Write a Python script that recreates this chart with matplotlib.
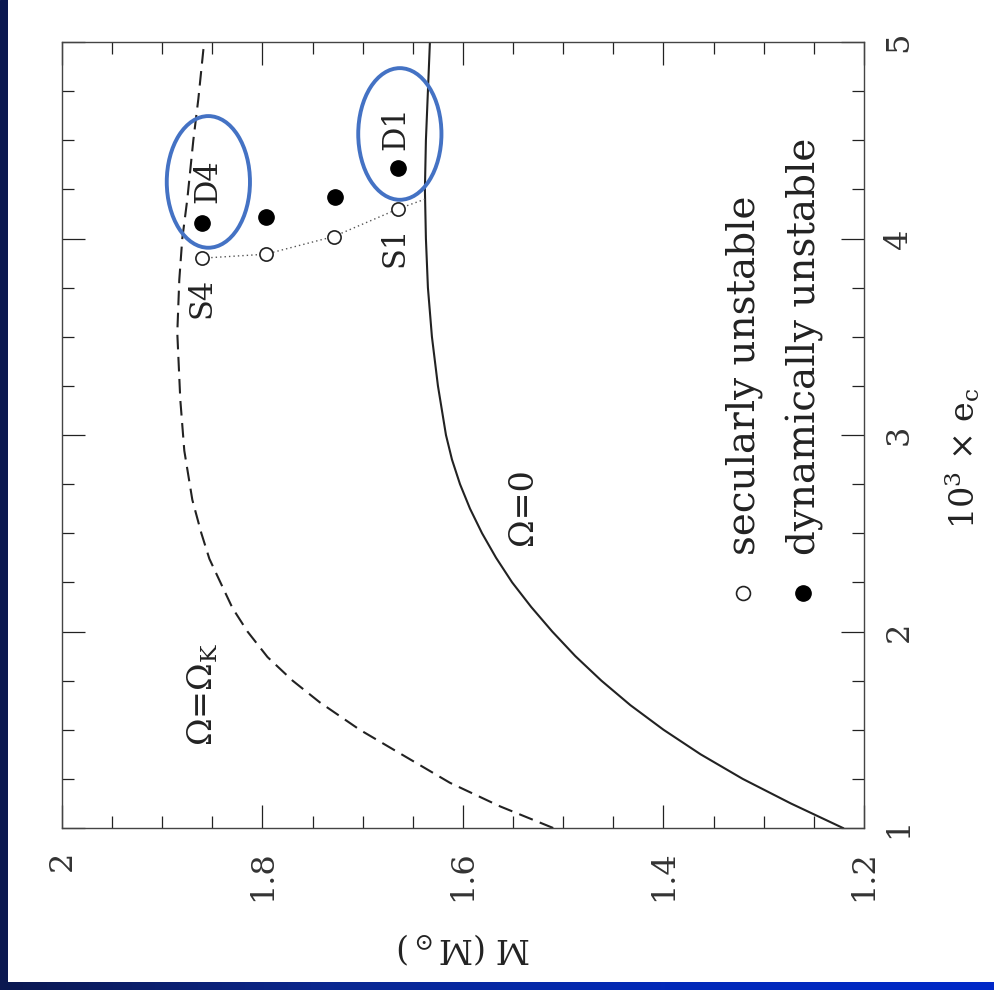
import matplotlib
matplotlib.use('Agg')
import matplotlib.pyplot as plt
import numpy as np
from matplotlib.patches import Ellipse
from matplotlib.ticker import MultipleLocator
from matplotlib.colors import LinearSegmentedColormap

plt.rcParams['font.family'] = 'DejaVu Serif'
plt.rcParams['mathtext.fontset'] = 'dejavuserif'

# Omega = 0 curve (10^3 e_c, M)
omega0_ec = [1.00, 1.125, 1.25, 1.375, 1.50, 1.625, 1.75, 1.875, 2.00, 2.125, 2.25, 2.375,
             2.50, 2.625, 2.75, 2.875, 3.00, 3.25, 3.50, 3.75, 4.00, 4.25, 4.50, 4.75, 5.00]
omega0_m = [1.221, 1.273, 1.321, 1.363, 1.400, 1.433, 1.462, 1.488, 1.511, 1.532, 1.551, 1.567,
            1.581, 1.593, 1.603, 1.611, 1.617, 1.625, 1.631, 1.635, 1.637, 1.638, 1.637, 1.635, 1.633]

# Omega = Omega_K curve
omegak_ec = [1.00, 1.11, 1.23, 1.38, 1.50, 1.64, 1.75, 1.87, 2.00, 2.12, 2.25, 2.37,
             2.50, 2.67, 2.92, 3.18, 3.52, 3.79, 4.00, 4.20, 4.50, 4.71, 4.96, 5.00]
omegak_m = [1.510, 1.563, 1.613, 1.663, 1.703, 1.743, 1.770, 1.795, 1.815, 1.830, 1.842, 1.853,
            1.861, 1.870, 1.878, 1.882, 1.885, 1.883, 1.880, 1.875, 1.869, 1.864, 1.859, 1.857]

# models
sec_m = [1.860, 1.797, 1.729, 1.665]
sec_ec = [3.90, 3.92, 4.01, 4.15]
dyn_m = [1.860, 1.797, 1.728, 1.665]
dyn_ec = [4.08, 4.11, 4.21, 4.36]
# dotted link from S1 to the Omega=0 line
link_m = sec_m + [1.638]
link_ec = sec_ec + [4.20]

W, H = 995, 990
fig = plt.figure(figsize=(W / 100, H / 100), dpi=100)
fig.patch.set_facecolor('white')

# slide frame: dark strip left, gradient strip at the bottom
left = fig.add_axes([0, 0, 8 / W, 1])
left.set_facecolor('#0b1850')
left.set_axis_off()
left.add_patch(plt.Rectangle((0, 0), 1, 1, color='#0b1850', transform=left.transAxes))
bot = fig.add_axes([0, 0, 1, 8 / H])
cmap = LinearSegmentedColormap.from_list('band', ['#0b1850', '#0a2790', '#0229b8', '#0028c8'])
bot.imshow(np.linspace(0, 1, 256).reshape(1, -1), aspect='auto', cmap=cmap, extent=[0, 1, 0, 1])
bot.set_axis_off()

ax = fig.add_axes([62 / W, 1 - 828 / H, (864 - 62) / W, (828 - 42) / H])
ink = '#222222'

ax.plot(omega0_m, omega0_ec, color=ink, lw=1.5)
ax.plot(omegak_m, omegak_ec, color=ink, lw=1.5, dashes=(7, 3.6))
ax.plot(link_m, link_ec, color='#555555', lw=1.0, dashes=(1, 2.2))
ax.plot(sec_m, sec_ec, 'o', ms=9.5, mfc='white', mec=ink, mew=1.2)
ax.plot(dyn_m, dyn_ec, 'o', ms=11, mfc='black', mec='black')

ax.set_xlim(2, 1.2)
ax.set_ylim(1, 5)
ax.xaxis.set_major_locator(MultipleLocator(0.2))
ax.xaxis.set_minor_locator(MultipleLocator(0.05))
ax.yaxis.set_major_locator(MultipleLocator(1))
ax.yaxis.set_minor_locator(MultipleLocator(0.25))
ax.xaxis.set_major_formatter(plt.FuncFormatter(lambda v, p: '%g' % round(v, 2)))
ax.tick_params(which='both', direction='in', top=True, bottom=True, left=True, right=True,
               labelleft=False, labelright=True, color=ink, width=0.9)
ax.tick_params(which='major', length=16.5)
ax.tick_params(which='minor', length=8.6)
ax.tick_params(axis='x', labelsize=23, pad=16, labelcolor='#333333', labelrotation=90)
ax.tick_params(axis='y', labelsize=23, pad=14, labelcolor='#333333', labelrotation=90)
for lab in ax.get_yticklabels():
    lab.set_va('center')
for s in ax.spines.values():
    s.set_color('#444444')
    s.set_linewidth(1.0)

# point labels
for txt, m, e in [('S4', 1.860, 3.70), ('D4', 1.855, 4.29), ('S1', 1.668, 3.96), ('D1', 1.667, 4.56)]:
    ax.text(m, e, txt, rotation=90, ha='center', va='center', fontsize=22, color=ink)

ax.text(1.540, 2.634, 'Ω=0', rotation=90, ha='center', va='center', fontsize=24, color=ink)
ax.text(1.860, 1.682, r'Ω=Ω$_{\rm K}$', rotation=90, ha='center', va='center', fontsize=24, color=ink)

# legend
ax.plot([1.321], [2.196], 'o', ms=10, mfc='white', mec=ink, mew=1.2)
ax.plot([1.261], [2.196], 'o', ms=11, mfc='black', mec='black')
ax.text(1.319, 2.39, 'secularly unstable', rotation=90, ha='center', va='bottom', fontsize=28, color=ink)
ax.text(1.259, 2.39, 'dynamically unstable', rotation=90, ha='center', va='bottom', fontsize=28, color=ink)

# highlight ellipses
for m, e in [(1.854, 4.288), (1.663, 4.532)]:
    ax.add_patch(Ellipse((m, e), 0.083, 0.67, fill=False, ec='#4472c4', lw=2.8, zorder=5))

fig.text(464 / W, 1 - 948 / H, r'M (M$_\odot$)', rotation=180, ha='center', va='center',
         fontsize=24, color=ink)
fig.text(962 / W, 1 - 458 / H, r'10$^3$ × e$_{\rm c}$', rotation=90, ha='center', va='center',
         fontsize=24, color=ink)

fig.savefig('out.png', dpi=100, facecolor='white')
